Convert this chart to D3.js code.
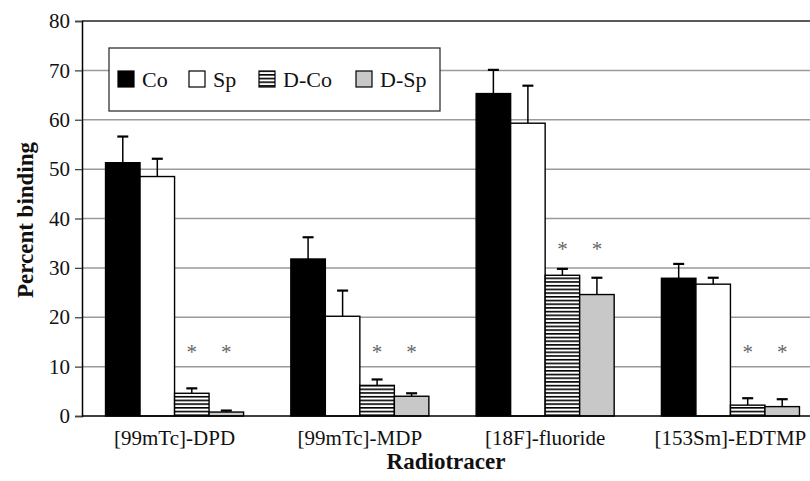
<!DOCTYPE html>
<html>
<head>
<meta charset="utf-8">
<script src="https://cdn.jsdelivr.net/npm/d3@7"></script>
<style>
  body { margin:0; background:#fff; }
  svg, svg text { font-family:"Liberation Serif","Times New Roman",serif; }
  svg { display:block; }
</style>
</head>
<body>
<div id="chart"></div>
<script>
// values (percent binding, bar top and top of error bar)
const tracers = ["[99mTc]-DPD", "[99mTc]-MDP", "[18F]-fluoride", "[153Sm]-EDTMP"];
const groups = ["Co", "Sp", "D-Co", "D-Sp"];
const coVals   = [51.3, 31.8, 65.3, 27.9];
const coErr    = [56.6, 36.2, 70.1, 30.8];
const spVals   = [48.5, 20.2, 59.3, 26.7];
const spErr    = [52.1, 25.4, 66.9, 28.0];
const dcoVals  = [4.6, 6.2, 28.5, 2.2];
const dcoErr   = [5.6, 7.4, 29.8, 3.6];
const dspVals  = [0.8, 4.0, 24.6, 1.9];
const dspErr   = [1.1, 4.6, 28.0, 3.4];
const starLevel = [13.5, 13.5, 34.5, 13.5]; // height of the * marks
const yTicks = [0, 10, 20, 30, 40, 50, 60, 70, 80];

const vals = [coVals, spVals, dcoVals, dspVals];
const errs = [coErr, spErr, dcoErr, dspErr];

const W = 810, H = 481;
const m = { top:21, left:82 };
const plotRight = 823, plotBottom = 416;

const svg = d3.select("#chart").append("svg").attr("width", W).attr("height", H);

const defs = svg.append("defs");
const pat = defs.append("pattern").attr("id","stripes")
  .attr("patternUnits","userSpaceOnUse").attr("width",8).attr("height",3.7);
pat.append("rect").attr("width",8).attr("height",3.7).attr("fill","#fff");
pat.append("rect").attr("y",0).attr("width",8).attr("height",1.6).attr("fill","#000");

const fills = ["#000", "#fff", "url(#stripes)", "#c8c8c8"];

const x0 = d3.scaleBand().domain(tracers).range([m.left, plotRight]).paddingInner(0.255).paddingOuter(0.127);
const x1 = d3.scaleBand().domain(groups).range([0, x0.bandwidth()]);
const y = d3.scaleLinear().domain([0, 80]).range([plotBottom, m.top]);

// gridlines
svg.append("g").selectAll("line").data(yTicks.filter(d => d > 0 && d < 80)).join("line")
  .attr("x1", m.left).attr("x2", plotRight)
  .attr("y1", d => y(d)).attr("y2", d => y(d))
  .attr("stroke","#9a9a9a").attr("stroke-width",1.5);

// top frame
svg.append("line").attr("x1", m.left).attr("x2", plotRight)
  .attr("y1", y(80)).attr("y2", y(80)).attr("stroke","#222").attr("stroke-width",1.5);

// y axis
const gy = svg.append("g").attr("transform", `translate(${m.left},0)`)
  .call(d3.axisLeft(y).tickValues(yTicks).tickSize(7).tickPadding(5));
gy.attr("font-family", null).attr("font-size", null);
gy.select(".domain").attr("stroke","#000").attr("stroke-width",1.5);
gy.selectAll(".tick line").attr("stroke","#444").attr("stroke-width",1.3);
gy.selectAll(".tick text").attr("font-size",21).attr("fill","#111");

// legend box
const lg = svg.append("g");
lg.append("rect").attr("x",109).attr("y",48).attr("width",331).attr("height",63)
  .attr("fill","#fff").attr("stroke","#333").attr("stroke-width",1.3);
const legX = [118, 189, 259, 356];
groups.forEach((gname, i) => {
  lg.append("rect").attr("x", legX[i]).attr("y", 71).attr("width",16).attr("height",16)
    .attr("fill", fills[i]).attr("stroke","#000").attr("stroke-width",1.2);
  lg.append("text").attr("x", legX[i] + 24).attr("y", 87)
    .attr("font-size",22).attr("fill","#111").text(gname);
});

// bars
tracers.forEach((t, ti) => {
  const g = svg.append("g").attr("transform", `translate(${x0(t)},0)`);
  groups.forEach((gname, gi) => {
    const v = vals[gi][ti], e = errs[gi][ti];
    const bx = x1(gname), bw = x1.bandwidth();
    const cx = bx + bw / 2;
    g.append("line").attr("x1", cx).attr("x2", cx).attr("y1", y(v)).attr("y2", y(e))
      .attr("stroke","#000").attr("stroke-width",1.5);
    g.append("line").attr("x1", cx - 5.5).attr("x2", cx + 5.5).attr("y1", y(e)).attr("y2", y(e))
      .attr("stroke","#000").attr("stroke-width",2.2);
    g.append("rect").attr("x", bx).attr("y", y(v)).attr("width", bw).attr("height", y(0) - y(v))
      .attr("fill", fills[gi]).attr("stroke","#000").attr("stroke-width",1.4);
  });
  ["D-Co","D-Sp"].forEach(gname => {
    g.append("text").attr("x", x1(gname) + x1.bandwidth()/2).attr("y", y(starLevel[ti]) + 10)
      .attr("text-anchor","middle").attr("font-size",21).attr("fill","#666").text("*");
  });
});

// x axis line
svg.append("line").attr("x1", m.left).attr("x2", plotRight)
  .attr("y1", y(0)).attr("y2", y(0)).attr("stroke","#000").attr("stroke-width",1.5);

// category labels
svg.append("g").selectAll("text").data(tracers).join("text")
  .attr("x", d => x0(d) + x0.bandwidth()/2).attr("y", 445)
  .attr("text-anchor","middle").attr("font-size",21).attr("fill","#111").text(d => d);

// axis titles
svg.append("text").attr("x", 446).attr("y", 469).attr("text-anchor","middle")
  .attr("font-size",23).attr("font-weight","bold").attr("fill","#111").text("Radiotracer");
svg.append("text").attr("transform","rotate(-90)").attr("x", -220).attr("y", 33)
  .attr("text-anchor","middle").attr("font-size",23).attr("font-weight","bold")
  .attr("fill","#111").text("Percent binding");
</script>
</body>
</html>
